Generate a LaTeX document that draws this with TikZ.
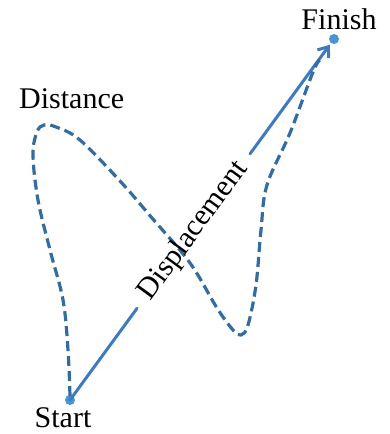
\documentclass[tikz,border=0pt]{standalone}
\usepackage{fontspec}
\setmainfont{Liberation Serif}
\usetikzlibrary{arrows.meta,calc}
\definecolor{pathblue}{RGB}{52,108,160}
\definecolor{arrblue}{RGB}{62,122,192}
\definecolor{dotblue}{RGB}{72,148,212}
\tikzset{
  dot/.style={circle,fill=dotblue,inner sep=0pt,minimum size=10pt},
  lbl/.style={font=\fontsize{30}{33}\selectfont,inner sep=0pt},
  displine/.style={draw=arrblue,line width=3pt},
  distpath/.style={draw=pathblue,line width=3.2pt,dash pattern=on 10pt off 5pt}
}
\begin{document}
\begin{tikzpicture}[x=1pt,y=-1pt]
\useasboundingbox (0,0) rectangle (390,434);
\node[dot] (start) at (70,400) {};
\node[dot] (finish) at (334,39) {};
\node[lbl,anchor=base] (starttxt) at (63,427) {Start};
\node[lbl,anchor=base] (finishtxt) at (339,29) {Finish};
\node[lbl,anchor=base west] (disttxt) at (19,108) {Distance};
\coordinate (ga) at ($(start)!0.254!(finish)$);
\coordinate (gb) at ($(start)!0.682!(finish)$);
\coordinate (gm) at ($(start)!0.468!(finish)$);
\draw[displine,line cap=round] (start.center) -- (ga);
\draw[displine,line cap=round,-{Straight Barb[length=9pt,width=14pt,line width=3pt]},shorten >=2pt] (gb) -- (finish);
\draw[distpath] plot[smooth,tension=0.6] coordinates {
 (70,396) (68,350) (63,300) (50,250) (38,200) (33,155) (37,132) (44,125) (56,127) (80,140)
 (120,181) (152,218) (190,263) (217,308) (233,330) (241,335) (248,325) (256,285) (261,230)
 (267,185) (290,133) (313,72) (320,60)};
\node[lbl,rotate=53.8] (disp) at (gm) {Displacement};
\end{tikzpicture}
\end{document}
